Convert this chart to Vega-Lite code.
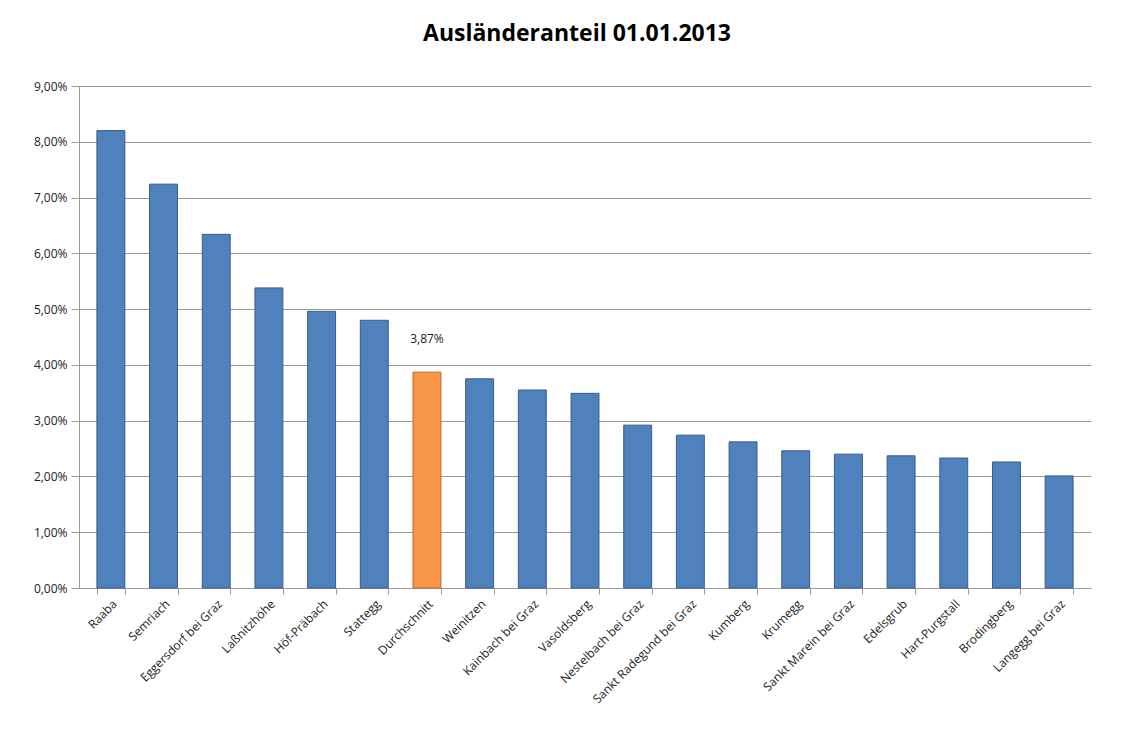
{
  "$schema": "https://vega.github.io/schema/vega-lite/v6.json",
  "autosize": "none",
  "width": 1012,
  "height": 502,
  "padding": {"left": 79, "top": 86, "right": 43, "bottom": 147},
  "background": "white",
  "config": {
    "locale": {"number": {"decimal": ",", "thousands": ".", "grouping": [3], "currency": ["", " €"]}},
    "view": {"stroke": null},
    "font": "Open Sans"
  },
  "title": {
    "text": "Ausländeranteil 01.01.2013",
    "font": "Open Sans",
    "fontSize": 23,
    "fontWeight": "bold",
    "color": "#000000",
    "anchor": "middle",
    "dx": -8,
    "offset": 34
  },
  "data": {
    "values": [
      {"ort": "Raaba", "anteil": 0.0820, "typ": "Gemeinde"},
      {"ort": "Semriach", "anteil": 0.0724, "typ": "Gemeinde"},
      {"ort": "Eggersdorf bei Graz", "anteil": 0.0634, "typ": "Gemeinde"},
      {"ort": "Laßnitzhöhe", "anteil": 0.0538, "typ": "Gemeinde"},
      {"ort": "Höf-Präbach", "anteil": 0.0496, "typ": "Gemeinde"},
      {"ort": "Stattegg", "anteil": 0.0480, "typ": "Gemeinde"},
      {"ort": "Durchschnitt", "anteil": 0.0387, "typ": "Durchschnitt"},
      {"ort": "Weinitzen", "anteil": 0.0375, "typ": "Gemeinde"},
      {"ort": "Kainbach bei Graz", "anteil": 0.0355, "typ": "Gemeinde"},
      {"ort": "Vasoldsberg", "anteil": 0.0349, "typ": "Gemeinde"},
      {"ort": "Nestelbach bei Graz", "anteil": 0.0292, "typ": "Gemeinde"},
      {"ort": "Sankt Radegund bei Graz", "anteil": 0.0274, "typ": "Gemeinde"},
      {"ort": "Kumberg", "anteil": 0.0262, "typ": "Gemeinde"},
      {"ort": "Krumegg", "anteil": 0.0246, "typ": "Gemeinde"},
      {"ort": "Sankt Marein bei Graz", "anteil": 0.0240, "typ": "Gemeinde"},
      {"ort": "Edelsgrub", "anteil": 0.0237, "typ": "Gemeinde"},
      {"ort": "Hart-Purgstall", "anteil": 0.0233, "typ": "Gemeinde"},
      {"ort": "Brodingberg", "anteil": 0.0226, "typ": "Gemeinde"},
      {"ort": "Langegg bei Graz", "anteil": 0.0201, "typ": "Gemeinde"}
    ]
  },
  "encoding": {
    "x": {
      "field": "ort",
      "type": "nominal",
      "sort": null,
      "scale": {"paddingInner": 0.47, "paddingOuter": 0.34},
      "axis": {
        "title": null,
        "labelAngle": -45,
        "labelFontSize": 12,
        "labelColor": "#222222",
        "labelFont": "Open Sans",
        "domainColor": "#9a9a9a",
        "tickColor": "#9a9a9a",
        "tickBand": "extent",
        "tickSize": 6,
        "labelPadding": 4
      }
    },
    "y": {
      "field": "anteil",
      "type": "quantitative",
      "scale": {"domain": [0, 0.09], "nice": false},
      "axis": {
        "title": null,
        "format": ".2%",
        "values": [0, 0.01, 0.02, 0.03, 0.04, 0.05, 0.06, 0.07, 0.08, 0.09],
        "labelFontSize": 12,
        "labelColor": "#222222",
        "labelFont": "Open Sans",
        "domainColor": "#9a9a9a",
        "tickColor": "#9a9a9a",
        "gridColor": "#9a9a9a",
        "gridWidth": 1,
        "tickSize": 8,
        "labelPadding": 4
      }
    }
  },
  "layer": [
    {
      "mark": {"type": "bar", "strokeWidth": 1},
      "encoding": {
        "color": {
          "field": "typ",
          "type": "nominal",
          "scale": {"domain": ["Gemeinde", "Durchschnitt"], "range": ["#4F81BD", "#F79646"]},
          "legend": null
        },
        "stroke": {
          "field": "typ",
          "type": "nominal",
          "scale": {"domain": ["Gemeinde", "Durchschnitt"], "range": ["#385D8A", "#B66D31"]},
          "legend": null
        }
      }
    },
    {
      "transform": [{"filter": "datum.typ === 'Durchschnitt'"}],
      "mark": {"type": "text", "dy": -26, "fontSize": 12, "font": "Open Sans", "color": "#222222", "baseline": "bottom"},
      "encoding": {
        "text": {"field": "anteil", "type": "quantitative", "format": ".2%"}
      }
    }
  ]
}
